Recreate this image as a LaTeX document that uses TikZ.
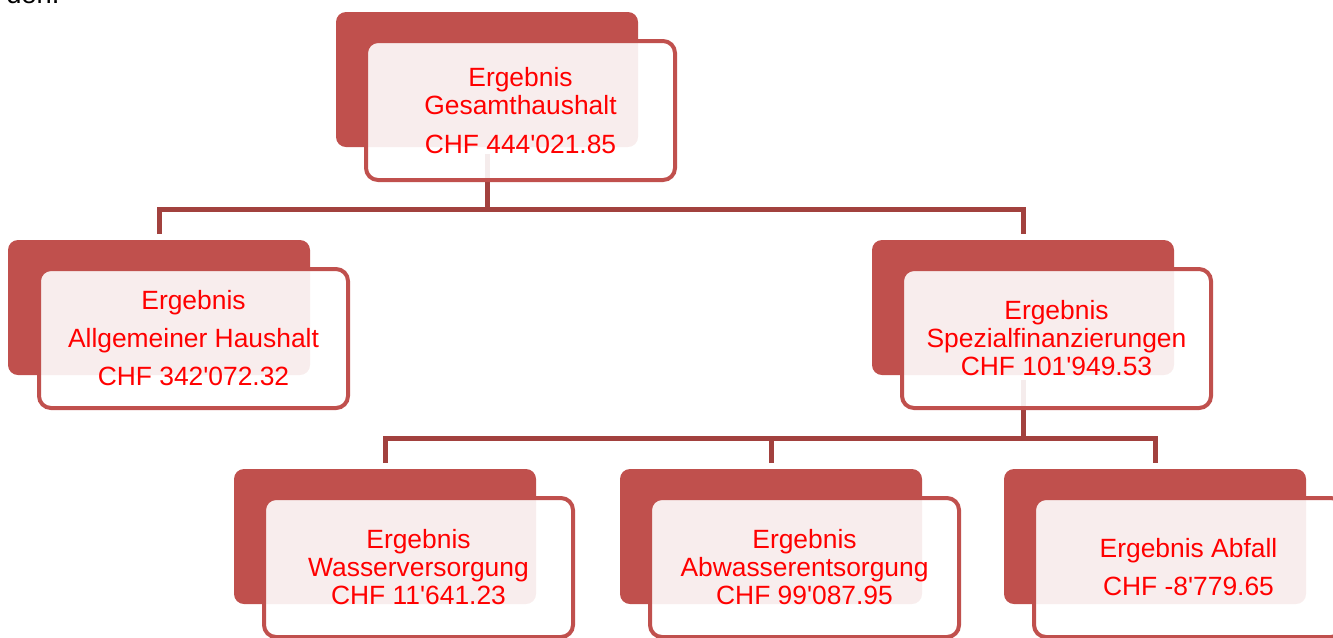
\documentclass[tikz,border=0pt]{standalone}
\usepackage{fontspec}
\setmainfont{Liberation Sans}[Ligatures=TeXOff]
\definecolor{backred}{HTML}{C0504D}
\definecolor{conn}{HTML}{A2413E}
\definecolor{txtred}{HTML}{FF0000}
\begin{document}
\begin{tikzpicture}[x=0.75pt,y=-0.75pt,
 backbox/.style={draw=none, fill=backred, rounded corners=7.5pt, minimum width=226.5pt, minimum height=101.25pt, inner sep=0pt, outer sep=0pt, anchor=north west},
 frontbox/.style={draw=backred, line width=3pt, fill=white, fill opacity=0.9, text opacity=1, rounded corners=9pt, minimum width=231.75pt, minimum height=104.25pt, inner sep=0pt, outer sep=0pt, anchor=north west, align=center, text=txtred, font=\fontsize{19.8}{21}\selectfont},
 connector/.style={draw=conn, line width=3.75pt}]
\useasboundingbox (0,0) rectangle (1333,637);
\clip (0,0) rectangle (1333,637);
\node[anchor=base west, inner sep=0pt, font=\fontsize{20.5}{24}\selectfont] (den) at (6,3.5) {den.};
% back boxes
\node[backbox] (tb) at (336,12) {};
\node[backbox] (lb) at (8,240) {};
\node[backbox] (rb) at (872,240) {};
\node[backbox] (wb) at (234,469) {};
\node[backbox] (ab) at (620,469) {};
\node[backbox] (fb) at (1004,469) {};
% connectors
\coordinate (j1) at (487,209);
\coordinate (j2) at (1023,438);
\draw[connector] ([yshift=-5.25pt]tb.south) -- (j1);
\draw[connector] ([yshift=4.5pt]lb.north) |- (j1) -| ([yshift=4.5pt]rb.north);
\draw[connector] ([yshift=-3.75pt]rb.south) -- (j2);
\draw[connector] ([yshift=4.5pt]wb.north) |- (j2) -| ([yshift=4.5pt]fb.north);
\draw[connector] ([yshift=4.5pt]ab.north) -- (ab.north |- j2);
% front boxes
\node[frontbox] (tf) at (366,41) {Ergebnis\\Gesamthaushalt\\[7.6pt]CHF 444'021.85};
\node[frontbox] (lf) at (39,269) {Ergebnis\\[7.5pt]Allgemeiner Haushalt\\[7.5pt]CHF 342'072.32};
\node[frontbox] (rf) at (902,269) {Ergebnis\\Spezialfinanzierungen\\CHF 101'949.53};
\node[frontbox] (wf) at (264,498) {Ergebnis\\Wasserversorgung\\CHF 11'641.23};
\node[frontbox] (af) at (650,498) {Ergebnis\\Abwasserentsorgung\\CHF 99'087.95};
\node[frontbox] (ff) at (1034,498) {Ergebnis Abfall\\[7.5pt]CHF -8'779.65};
\end{tikzpicture}
\end{document}
